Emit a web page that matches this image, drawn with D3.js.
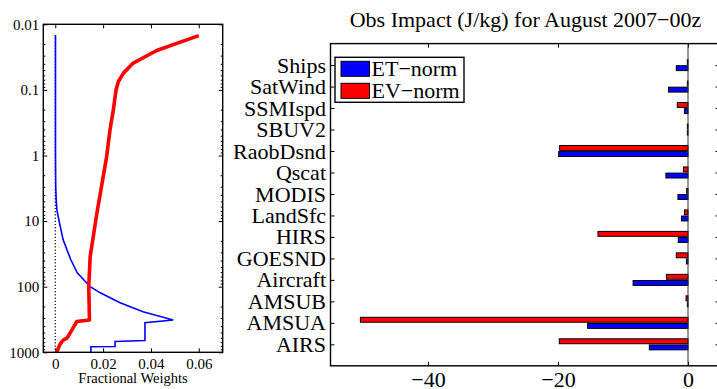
<!DOCTYPE html>
<html>
<head>
<meta charset="utf-8">
<script src="https://cdn.jsdelivr.net/npm/d3@7"></script>
<style>
  body { margin: 0; background: #fff; }
  svg text { font-family: "Liberation Serif", "Times New Roman", serif; fill: #000; }
</style>
</head>
<body>
<div id="chart"></div>
<script>
// ---- left panel: fractional weights vs pressure ----
const pressureET = [0.0146, 1, 3, 4.8, 6.8, 9.6, 19.3, 38.9, 61.5, 100, 124, 176, 241, 322, 353, 661, 684, 817, 825, 1000];
const weightET   = [0.0001, 0.0001, 0.0002, 0.0004, 0.0007, 0.0015, 0.0033, 0.0065, 0.0092, 0.0146, 0.0188, 0.0271, 0.0367, 0.0493, 0.0375, 0.0375, 0.025, 0.025, 0.0149, 0.0149];

const pressureEV = [0.0149, 0.0251, 0.039, 0.0555, 0.0745, 0.1, 0.2, 0.405, 1.03, 8, 34.7, 100, 322, 339, 454, 608, 645, 684, 769, 916, 1000];
const weightEV   = [0.06, 0.0424, 0.0326, 0.0285, 0.0264, 0.0254, 0.0243, 0.0229, 0.0215, 0.0173, 0.0146, 0.0140, 0.0143, 0.0090, 0.0070, 0.0049, 0.0035, 0.0028, 0.0019, 0.0010, 0.0005];

const pressureTicks = [0.01, 0.1, 1, 10, 100, 1000];
const weightTicks = [0, 0.02, 0.04, 0.06];

// ---- right panel: obs impact by type (bottom to top) ----
const obsTypes = ["AIRS", "AMSUA", "AMSUB", "Aircraft", "GOESND", "HIRS", "LandSfc", "MODIS", "Qscat", "RaobDsnd", "SBUV2", "SSMIspd", "SatWind", "Ships"];
const etNorm = [-5.95, -15.45, -0.1, -8.45, -0.25, -1.5, -1.0, -1.55, -3.4, -19.9, -0.1, -0.55, -3.0, -1.8];
const evNorm = [-19.8, -50.4, -0.3, -3.3, -1.8, -13.85, -0.55, -0.2, -0.7, -19.75, -0.1, -1.65, -0.1, -0.1];
const impactTicks = [-40, -20, 0];
const seriesNames = ["ET\u2212norm", "EV\u2212norm"];

const svg = d3.select("#chart")
  .append("svg")
    .attr("width", 717)
    .attr("height", 389);

svg.append("rect").attr("width", 717).attr("height", 389).attr("fill", "#fff");

// strip d3's default axis font so the css serif applies
function clean(g, size) {
  g.attr("font-family", null).attr("font-size", null);
  g.select(".domain").remove();
  g.selectAll("line").attr("stroke", "#000");
  g.selectAll("text").style("font-size", size + "px");
}

// ================= left panel =================
const L = {x0: 43.3, x1: 222.7, y0: 24.3, y1: 352.3};

const x = d3.scaleLinear()
  .domain([-0.005, 0.07])
  .range([L.x0, L.x1]);

const y = d3.scaleLog()
  .domain([0.01, 1000])
  .range([L.y0, L.y1]);

// minor log ticks
const minorP = [];
for (let e = -2; e < 3; e++) {
  for (let m = 2; m < 10; m++) minorP.push(m * Math.pow(10, e));
}

svg.append("g")
  .attr("transform", "translate(" + L.x0 + ",0)")
  .call(d3.axisLeft(y).tickValues(minorP).tickSizeInner(-2).tickSizeOuter(0).tickFormat(""))
  .call(g => clean(g, 15));
svg.append("g")
  .attr("transform", "translate(" + L.x1 + ",0)")
  .call(d3.axisRight(y).tickValues(minorP).tickSizeInner(-2).tickSizeOuter(0).tickFormat(""))
  .call(g => clean(g, 15));

svg.append("g")
  .attr("transform", "translate(" + L.x0 + ",0)")
  .call(d3.axisLeft(y).tickValues(pressureTicks).tickSizeInner(-4).tickSizeOuter(0).tickPadding(4).tickFormat(d3.format("~g")))
  .call(g => clean(g, 15));
svg.append("g")
  .attr("transform", "translate(" + L.x1 + ",0)")
  .call(d3.axisRight(y).tickValues(pressureTicks).tickSizeInner(-4).tickSizeOuter(0).tickFormat(""))
  .call(g => clean(g, 15));

svg.append("g")
  .attr("transform", "translate(0," + L.y1 + ")")
  .call(d3.axisBottom(x).tickValues(weightTicks).tickSizeInner(-4).tickSizeOuter(0).tickPadding(6).tickFormat(d3.format("~g")))
  .call(g => clean(g, 15));
svg.append("g")
  .attr("transform", "translate(0," + L.y0 + ")")
  .call(d3.axisTop(x).tickValues(weightTicks).tickSizeInner(-4).tickSizeOuter(0).tickFormat(""))
  .call(g => clean(g, 15));

svg.append("text")
  .attr("x", (L.x0 + L.x1) / 2)
  .attr("y", 382.5)
  .attr("text-anchor", "middle")
  .style("font-size", "14.5px")
  .text("Fractional Weights");

// zero reference (dotted)
svg.append("line")
  .attr("x1", x(0)).attr("x2", x(0))
  .attr("y1", y(d3.min(pressureET))).attr("y2", y(1000))
  .attr("stroke", "#000")
  .attr("stroke-width", 1.2)
  .attr("stroke-dasharray", "1.2,2");

const profile = d3.line()
  .x(d => x(d[1]))
  .y(d => y(d[0]));

svg.append("path")
  .datum(d3.zip(pressureET, weightET))
  .attr("fill", "none")
  .attr("stroke", "#0000ff")
  .attr("stroke-width", 1.6)
  .attr("d", profile);

svg.append("path")
  .datum(d3.zip(pressureEV, weightEV))
  .attr("fill", "none")
  .attr("stroke", "#ff0000")
  .attr("stroke-width", 3.6)
  .attr("stroke-linejoin", "round")
  .attr("d", profile);

svg.append("rect")
  .attr("x", L.x0).attr("y", L.y0)
  .attr("width", L.x1 - L.x0).attr("height", L.y1 - L.y0)
  .attr("fill", "none")
  .attr("stroke", "#000")
  .attr("stroke-width", 1.4);

// ================= right panel =================
const R = {x0: 330.5, x1: 720.5, y0: 43.6, y1: 365.8};

const xi = d3.scaleLinear()
  .domain([-55, 5])
  .range([R.x0, R.x1]);

const yc = d3.scaleLinear()
  .domain([0, obsTypes.length + 1])
  .range([R.y1, R.y0]);

const positions = d3.range(1, obsTypes.length + 1);

svg.append("text")
  .attr("x", (R.x0 + R.x1) / 2)
  .attr("y", 27)
  .attr("text-anchor", "middle")
  .style("font-size", "22px")
  .text("Obs Impact (J/kg) for August 2007\u221200z");

svg.append("g")
  .attr("transform", "translate(" + R.x0 + ",0)")
  .call(d3.axisLeft(yc).tickValues(positions).tickSizeInner(-4).tickSizeOuter(0).tickPadding(4.5)
    .tickFormat(i => obsTypes[i - 1]))
  .call(g => clean(g, 22));
svg.append("g")
  .attr("transform", "translate(" + R.x1 + ",0)")
  .call(d3.axisRight(yc).tickValues(positions).tickSizeInner(-5).tickSizeOuter(0).tickFormat(""))
  .call(g => clean(g, 22));

svg.append("g")
  .attr("transform", "translate(0," + R.y1 + ")")
  .call(d3.axisBottom(xi).tickValues(impactTicks).tickSizeInner(-4).tickSizeOuter(0).tickPadding(6)
    .tickFormat(d => d < 0 ? "\u2212" + Math.abs(d) : d))
  .call(g => clean(g, 22));
svg.append("g")
  .attr("transform", "translate(0," + R.y0 + ")")
  .call(d3.axisTop(xi).tickValues(impactTicks).tickSizeInner(-4).tickSizeOuter(0).tickFormat(""))
  .call(g => clean(g, 22));

// grouped horizontal bars, matlab-like spacing
const groupWidth = Math.min(0.8, 2 / 3.5);
const barW = groupWidth / 2 * 0.8;
const series = [
  {values: etNorm, color: "#0000ff", off: -groupWidth / 4},
  {values: evNorm, color: "#ff0000", off: groupWidth / 4}
];

series.forEach(s => {
  svg.append("g")
    .selectAll("rect")
    .data(s.values)
    .join("rect")
      .attr("x", d => xi(Math.min(d, 0)))
      .attr("width", d => Math.abs(xi(d) - xi(0)))
      .attr("y", (d, i) => yc(positions[i] + s.off + barW / 2))
      .attr("height", (d, i) => yc(positions[i] + s.off - barW / 2) - yc(positions[i] + s.off + barW / 2))
      .attr("fill", s.color)
      .attr("stroke", "#000")
      .attr("stroke-width", 1);
});

// baseline at zero
svg.append("line")
  .attr("x1", xi(0)).attr("x2", xi(0))
  .attr("y1", R.y0).attr("y2", R.y1)
  .attr("stroke", "#333")
  .attr("stroke-width", 1);

svg.append("rect")
  .attr("x", R.x0).attr("y", R.y0)
  .attr("width", R.x1 - R.x0).attr("height", R.y1 - R.y0)
  .attr("fill", "none")
  .attr("stroke", "#000")
  .attr("stroke-width", 1.4);

// legend
const legend = svg.append("g").attr("transform", "translate(335,57.3)");
legend.append("rect")
  .attr("width", 129).attr("height", 45)
  .attr("fill", "#fff")
  .attr("stroke", "#000")
  .attr("stroke-width", 1.4);

const item = legend.selectAll("g.item")
  .data(seriesNames)
  .join("g")
    .attr("class", "item")
    .attr("transform", (d, i) => "translate(0," + (11 + i * 22) + ")");

item.append("rect")
  .attr("x", 6).attr("y", -7)
  .attr("width", 28.5).attr("height", 15)
  .attr("fill", (d, i) => series[i].color)
  .attr("stroke", "#000")
  .attr("stroke-width", 1);

item.append("text")
  .attr("x", 36.5)
  .attr("y", 7.5)
  .style("font-size", "22px")
  .text(d => d);
</script>
</body>
</html>
